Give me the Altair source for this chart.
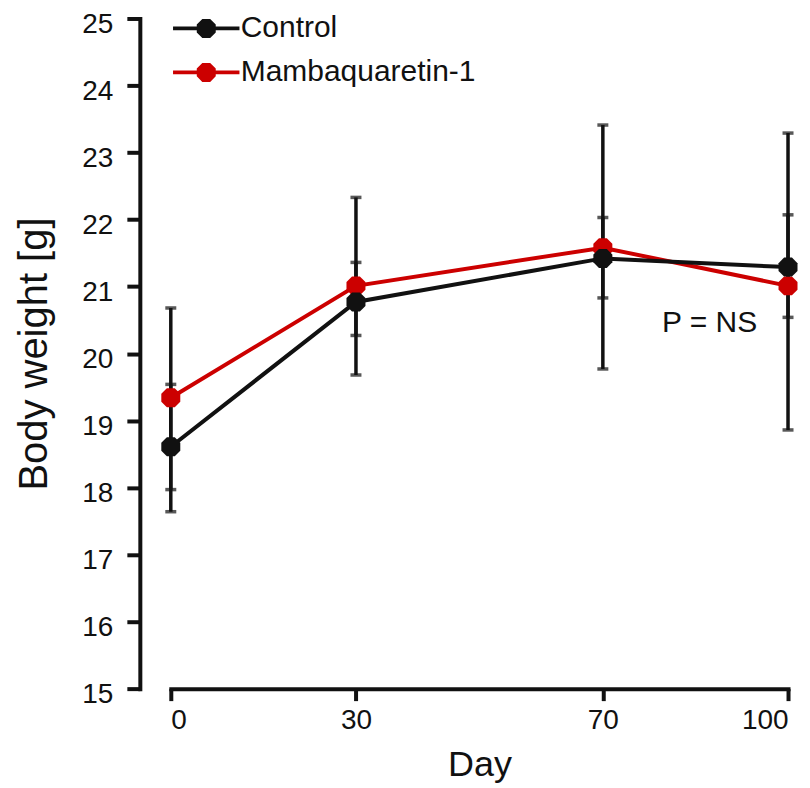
import altair as alt
import pandas as pd

days = [0, 30, 70, 100]
groups = ["Control", "Mambaquaretin-1"]
colors = ["#111111", "#cc0000"]

ctrl_mean = [18.61, 20.77, 21.42, 21.29]
ctrl_lo = [17.64, 20.27, 20.83, 20.54]
ctrl_hi = [19.54, 21.36, 22.03, 22.07]

mamba_mean = [19.34, 21.01, 21.58, 21.01]
mamba_lo = [17.97, 19.68, 19.77, 18.86]
mamba_hi = [20.68, 22.33, 23.41, 23.29]

y_ticks = list(range(15, 26))
annot_text = ["P = NS"]
annot_day = [87.3]
annot_y = [20.45]

FONT = "Liberation Sans"
OCT = "M-0.414,-1L0.414,-1L1,-0.414L1,0.414L0.414,1L-0.414,1L-1,0.414L-1,-0.414Z"
LEG = ("M-3.5,-0.2L3.5,-0.2L3.5,0.2L-3.5,0.2Z"
       "M-0.414,-1L0.414,-1L1,-0.414L1,0.414L0.414,1L-0.414,1L-1,0.414L-1,-0.414Z")

rows = []
for g, m, lo, hi in [(groups[1], mamba_mean, mamba_lo, mamba_hi),
                     (groups[0], ctrl_mean, ctrl_lo, ctrl_hi)]:
    for d, mv, l, h in zip(days, m, lo, hi):
        rows.append({"group": g, "day": d, "mean": mv, "lo": l, "hi": h})
df = pd.DataFrame(rows)

caps = pd.concat([
    df[["group", "day", "lo"]].rename(columns={"lo": "cap"}),
    df[["group", "day", "hi"]].rename(columns={"hi": "cap"}),
])

ann = pd.DataFrame({"t": annot_text, "day": annot_day, "y": annot_y})

xscale = alt.Scale(domain=[0, 100], nice=False, zero=False)
yscale = alt.Scale(domain=[15, 25], nice=False, zero=False)
cscale = alt.Scale(domain=groups, range=colors)

xaxis = alt.Axis(values=days, format="d", offset=0, tickSize=12, grid=False,
                 labelFontSize=28, titleFontSize=36, titlePadding=13,
                 labelPadding=6, title="Day")
yaxis = alt.Axis(values=y_ticks, format="d", offset=31, tickSize=13, grid=False,
                 labelFontSize=28, titleFontSize=40, titlePadding=27,
                 labelPadding=14, labelOffset=6, title="Body  weight [g]")

legend = alt.Legend(title=None, orient="none", legendX=20.5, legendY=-5,
                    symbolType=LEG, symbolSize=361, symbolStrokeWidth=0,
                    labelFontSize=30, labelFont=FONT, labelOffset=19.5, labelLimit=0,
                    rowPadding=14, padding=0, labelColor="#111111")


def X(field="day"):
    return alt.X(f"{field}:Q", scale=xscale, axis=xaxis, title="Day")


def Y(field):
    return alt.Y(f"{field}:Q", scale=yscale, axis=yaxis, title="Body  weight [g]")


bars = alt.Chart(df).mark_rule(color="#111111", strokeWidth=3.5).encode(
    x=X(), y=Y("lo"), y2="hi:Q")

capm = alt.Chart(caps).mark_tick(color="#111111", thickness=3.5, size=11,
                                 orient="horizontal").encode(
    x=X(), y=Y("cap"))

lines = alt.Chart(df).mark_line(strokeWidth=4).encode(
    x=X(), y=Y("mean"),
    stroke=alt.Stroke("group:N", scale=cscale, legend=legend),
    detail="group:N")

points = alt.Chart(df).mark_point(filled=True, shape=OCT, size=361, opacity=1).encode(
    x=X(), y=Y("mean"),
    fill=alt.Fill("group:N", scale=cscale, legend=legend))

text = alt.Chart(ann).mark_text(fontSize=30, font=FONT, color="#111111").encode(
    x=X(), y=Y("y"), text="t:N")

chart = alt.layer(bars, capm, lines, points, text).properties(
    width=618, height=671,
    autosize=alt.AutoSizeParams(type="none"),
    padding={"left": 163, "top": 10, "right": 14, "bottom": 95}
).configure_view(stroke=None).configure_axis(
    domainColor="#111111", domainWidth=4, tickColor="#111111", tickWidth=4,
    labelColor="#111111", titleColor="#111111", labelFont=FONT, titleFont=FONT,
    grid=False, titleFontWeight="normal", domainCap="square"
)

chart.save("out.html", embed_options={"renderer": "svg", "actions": False})
